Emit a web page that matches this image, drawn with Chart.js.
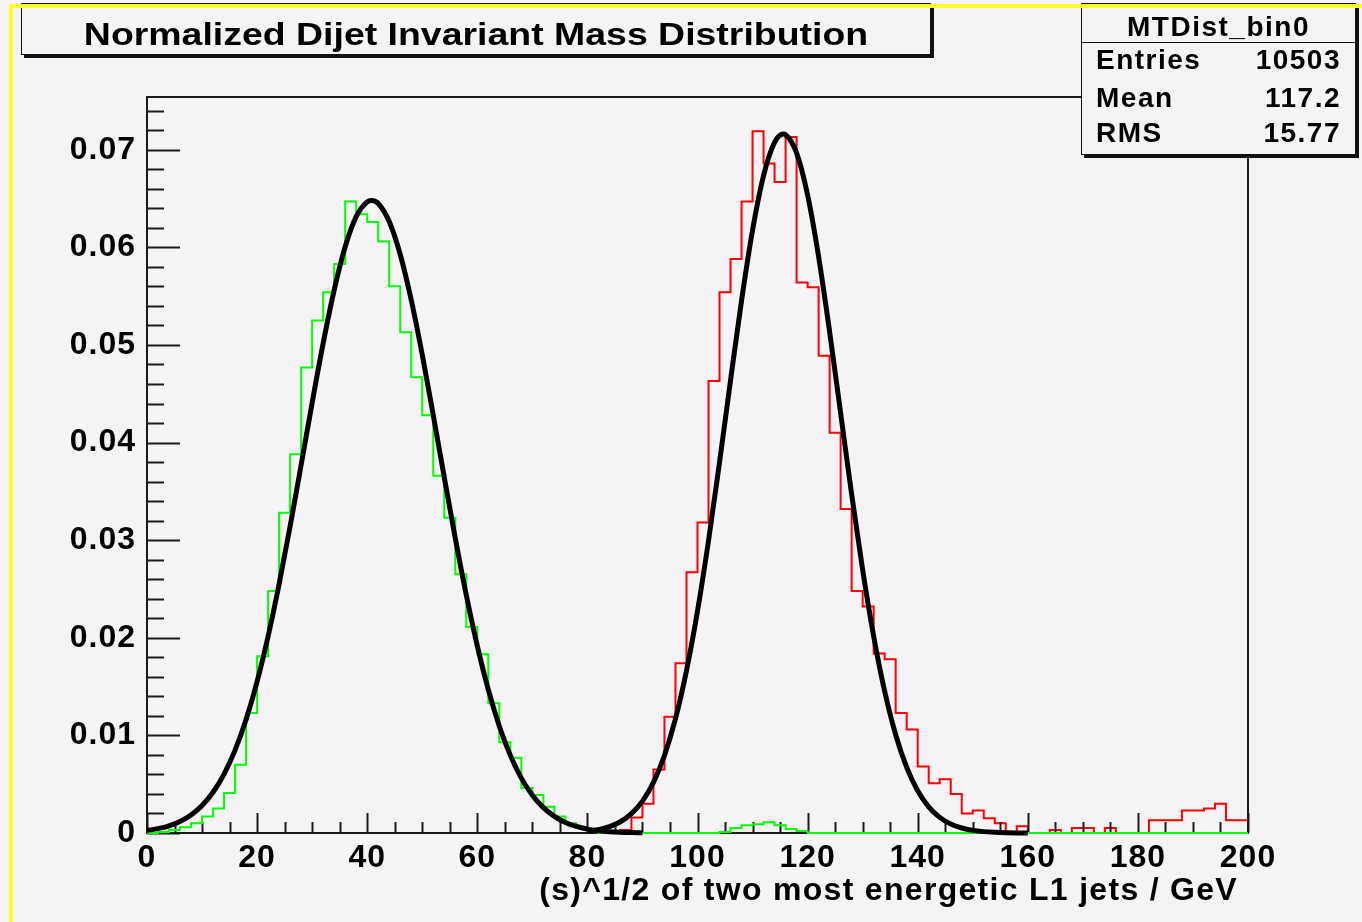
<!DOCTYPE html>
<html>
<head>
<meta charset="utf-8">
<title>Normalized Dijet Invariant Mass Distribution</title>
<script src="https://cdn.jsdelivr.net/npm/chart.js@4.4.0/dist/chart.umd.min.js"></script>
<style>
  html, body { margin: 0; padding: 0; background: #f6f3f6; }
  #wrap { position: relative; width: 1362px; height: 922px; overflow: hidden; background: #f6f3f6; }
  #chart { position: absolute; left: 0; top: 0; }
  .yellow { position: absolute; background: #fdfd2e; z-index: 5; }
  .txt { font-family: "Liberation Sans", Arial, Helvetica, sans-serif; font-weight: bold; color: #000; }
  .box { position: absolute; background: #f6f3f6; border: 1.5px solid #111; box-shadow: 3px 3px 0 #111; }
  #titleBox { left: 21px; top: 3px; width: 908px; height: 50px; font-size: 32px; text-align: center; }
  #titleBox span { position: absolute; left: 0; right: 0; top: 12px; line-height: 36px; transform: scaleX(1.17); }
  #statsBox { left: 1081px; top: 3px; width: 273px; height: 150px; font-size: 28px; letter-spacing: 1.5px; }
  #statsHead { position: absolute; left: 0; right: 0; top: 0; height: 38px; border-bottom: 1.5px solid #111; text-align: center; line-height: 46px; }
  .row { position: absolute; left: 14px; right: 14px; height: 32px; line-height: 32px; }
  .row .v { position: absolute; right: 0; top: 0; }
  #xTitle { position: absolute; right: 124px; top: 871px; font-size: 32px; line-height: 36px; letter-spacing: 1.3px; white-space: nowrap; }
</style>
</head>
<body>
<div id="wrap">
  <canvas id="chart" width="1362" height="922"></canvas>
  <div class="yellow" style="left:9px; top:4px; width:1353px; height:4px;"></div>
  <div class="yellow" style="left:9px; top:4px; width:4px; height:918px;"></div>
  <div id="titleBox" class="box txt"><span>Normalized Dijet Invariant Mass Distribution</span></div>
  <div id="statsBox" class="box txt">
    <div id="statsHead">MTDist_bin0</div>
    <div class="row" style="top:40px;"><span>Entries</span><span class="v">10503</span></div>
    <div class="row" style="top:78px;"><span>Mean</span><span class="v">117.2</span></div>
    <div class="row" style="top:113px;"><span>RMS</span><span class="v">15.77</span></div>
  </div>
  <div id="xTitle" class="txt"></div>
</div>
<script>
// histogram binning (GeV)
const xLow = 0;
const binWidth = 2;
const xTitle = '(s)^1/2 of two most energetic L1 jets / GeV';

// green histogram, 100 bins from 0 to 200
const greenValues = [
  0, 0.0001, 0.0003, 0.0006, 0.0010, 0.0017, 0.0025, 0.0041, 0.0070, 0.0123,
  0.0181, 0.0248, 0.0328, 0.0388, 0.0477, 0.0525, 0.0554, 0.0583, 0.0647, 0.0634,
  0.0626, 0.0606, 0.0560, 0.0513, 0.0467, 0.0428, 0.0366, 0.0323, 0.0265, 0.0211,
  0.0183, 0.0133, 0.0093, 0.0077, 0.0046, 0.0039, 0.0027, 0.0017, 0.0010, 0.0005,
  0.0002, 0, 0, 0, 0, 0, 0, 0, 0, 0,
  0, 0, 0.0001, 0.0005, 0.0008, 0.0009, 0.0011, 0.0008, 0.0004, 0.0002,
  0, 0, 0, 0, 0, 0, 0, 0, 0, 0,
  0, 0, 0, 0, 0, 0, 0, 0, 0, 0,
  0, 0, 0, 0, 0, 0, 0, 0, 0, 0,
  0, 0, 0, 0, 0, 0, 0, 0, 0, 0
];

// red histogram (MTDist_bin0), 100 bins from 0 to 200
const redValues = [
  0, 0, 0, 0, 0, 0, 0, 0, 0, 0,
  0, 0, 0, 0, 0, 0, 0, 0, 0, 0,
  0, 0, 0, 0, 0, 0, 0, 0, 0, 0,
  0, 0, 0, 0, 0, 0, 0, 0, 0, 0,
  0, 0, 0, 0.0003, 0.0016, 0.0030, 0.0065, 0.0119, 0.0174, 0.0267,
  0.0318, 0.0463, 0.0554, 0.0588, 0.0647, 0.0719, 0.0686, 0.0667, 0.0713, 0.0564,
  0.0559, 0.0489, 0.0410, 0.0332, 0.0248, 0.0232, 0.0184, 0.0178, 0.0123, 0.0106,
  0.0068, 0.0051, 0.0055, 0.0040, 0.0020, 0.0023, 0.0015, 0.0010, 0, 0.0007,
  0, 0, 0.0003, 0, 0.0005, 0.0005, 0, 0.0005, 0, 0,
  0, 0.0013, 0.0013, 0.0013, 0.0023, 0.0023, 0.0025, 0.0030, 0.0013, 0.0013
];

// fitted curves (every 2 GeV plus the peak)
const fit1X = [0, 2, 4, 6, 8, 10, 12, 14, 16, 18, 20, 22, 24, 26, 28, 30, 32, 34, 36, 38,
  40, 40.8, 42, 44, 46, 48, 50, 52, 54, 56, 58, 60, 62, 64, 66, 68, 70, 72, 74, 76, 78,
  80, 82, 84, 86, 88, 90];
const fit1Y = [0.00026, 0.00045, 0.00074, 0.00118, 0.00185, 0.00282, 0.00418, 0.00604, 0.00849, 0.01163,
  0.01551, 0.02015, 0.0255, 0.03142, 0.03771, 0.04408, 0.05017, 0.05562, 0.06005, 0.06314,
  0.06466, 0.0648, 0.0645, 0.06264, 0.05926, 0.0546, 0.04899, 0.04281, 0.03644, 0.0302, 0.02438,
  0.01917, 0.01468, 0.01094, 0.00795, 0.00562, 0.00387, 0.0026, 0.0017, 0.00108, 0.00067,
  0.0004, 0.00024, 0.00013, 0.00007, 0.00004, 0.00002];
const fit2X = [80, 82, 84, 86, 88, 90, 92, 94, 96, 98, 100, 102, 104, 106, 108, 110, 112, 114, 115.6, 116, 118,
  120, 122, 124, 126, 128, 130, 132, 134, 136, 138, 140, 142, 144, 146, 148, 150, 152, 154, 156, 158, 160];
const fit2Y = [0.00018, 0.00035, 0.00065, 0.00115, 0.00198, 0.00326, 0.00519, 0.00794, 0.01171, 0.01663,
  0.02274, 0.02994, 0.03797, 0.04637, 0.05454, 0.06176, 0.06735, 0.07074, 0.0716, 0.07154, 0.06968,
  0.06536, 0.05904, 0.05134, 0.04301, 0.03469, 0.02695, 0.02016, 0.01452, 0.01007, 0.00673,
  0.00433, 0.00268, 0.0016, 0.00092, 0.00051, 0.00027, 0.00014, 0.00007, 0.00003, 0.00001, 0];

document.getElementById('xTitle').textContent = xTitle;

const histPoints = vals => {
  const pts = vals.map((v, i) => ({ x: xLow + i * binWidth, y: v }));
  pts.push({ x: xLow + vals.length * binWidth, y: vals[vals.length - 1] });
  return pts;
};
const curvePoints = (xs, ys) => xs.map((x, i) => ({ x: x, y: ys[i] }));

const labelFont = { family: '"Liberation Sans", Arial, Helvetica, sans-serif', size: 32, weight: 'bold' };

// ROOT style frame with inward ticks, drawn over the red histogram
// (hides its empty bins) but under the green one and the fits
const RED_INDEX = 3;
const rootFrame = {
  id: 'rootFrame',
  beforeDraw(chart) {
    chart.ctx.letterSpacing = '1px';
  },
  afterDatasetDraw(chart, args) {
    if (args.index !== RED_INDEX) return;
    const { ctx, chartArea: a, scales: { x, y } } = chart;
    ctx.save();
    ctx.strokeStyle = '#1a1a1a';
    ctx.lineWidth = 2;
    ctx.strokeRect(a.left, a.top, a.right - a.left, a.bottom - a.top);
    ctx.beginPath();
    for (let v = 0; v <= 200; v += 5) {
      const px = Math.round(x.getPixelForValue(v)) + 0.5;
      const len = v % 20 === 0 ? 20 : 11;
      ctx.moveTo(px, a.bottom);
      ctx.lineTo(px, a.bottom - len);
    }
    for (let i = 0; i <= 37; i++) {
      const py = Math.round(y.getPixelForValue(i * 0.002)) + 0.5;
      const len = i % 5 === 0 ? 33 : 17;
      ctx.moveTo(a.left, py);
      ctx.lineTo(a.left + len, py);
    }
    ctx.stroke();
    ctx.restore();
  }
};

new Chart(document.getElementById('chart').getContext('2d'), {
  type: 'line',
  data: {
    datasets: [
      { label: 'fit 1', data: curvePoints(fit1X, fit1Y), borderColor: '#000', borderWidth: 5,
        pointRadius: 0, cubicInterpolationMode: 'monotone', order: 0, clip: 6 },
      { label: 'fit 2', data: curvePoints(fit2X, fit2Y), borderColor: '#000', borderWidth: 5,
        pointRadius: 0, cubicInterpolationMode: 'monotone', order: 0, clip: 6 },
      { label: 'green', data: histPoints(greenValues), borderColor: '#00ff00', borderWidth: 2,
        pointRadius: 0, stepped: true, order: 1, clip: 3 },
      { label: 'MTDist_bin0', data: histPoints(redValues), borderColor: '#ff0000', borderWidth: 2,
        pointRadius: 0, stepped: true, order: 2, clip: 3 }
    ]
  },
  options: {
    responsive: false,
    animation: false,
    layout: { padding: { left: 0, top: 97, right: 114, bottom: 0 } },
    plugins: { legend: { display: false }, tooltip: { enabled: false } },
    scales: {
      x: {
        type: 'linear', min: 0, max: 200,
        grid: { display: false, drawTicks: false }, border: { display: false },
        ticks: { stepSize: 20, font: labelFont, color: '#000', padding: 6, maxRotation: 0,
          autoSkip: false, includeBounds: false },
        afterFit(s) { s.height = 89; }
      },
      y: {
        type: 'linear', min: 0, max: 0.0754,
        grid: { display: false, drawTicks: false }, border: { display: false },
        ticks: { stepSize: 0.01, font: labelFont, color: '#000', padding: 11, includeBounds: false,
          callback: v => v === 0 ? '0' : v.toFixed(2) },
        afterFit(s) { s.width = 147; }
      }
    }
  },
  plugins: [rootFrame]
});
</script>
</body>
</html>
